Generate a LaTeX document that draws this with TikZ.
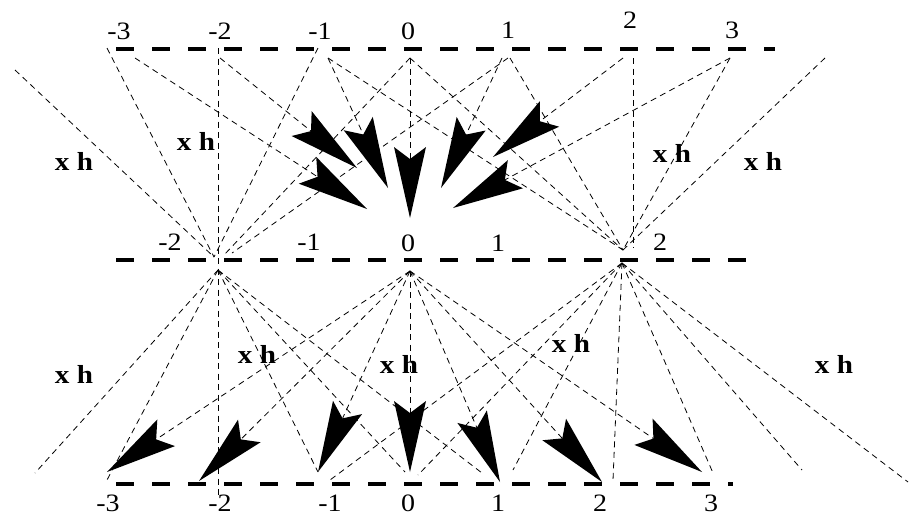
\documentclass[tikz,border=0pt]{standalone}
\usepackage{fontspec}
\setmainfont{Liberation Serif}
\newfontfamily\widenum[FakeStretch=1.12]{Liberation Serif}
\newcommand\numtext[1]{{\fontsize{25}{27}\selectfont\widenum #1}}
\newcommand\xhtext[1]{{\fontsize{26}{28}\selectfont\widenum\bfseries #1}}
\usetikzlibrary{calc}
\begin{document}
\begin{tikzpicture}[x=1pt,y=-1pt,
  thickdash/.style={line width=4.5pt, dash pattern=on 18pt off 18pt},
  thindash/.style={line width=0.8pt, dash pattern=on 6pt off 4.5pt},
  num/.style={anchor=base, inner sep=0pt},
  xh/.style={anchor=base, inner sep=0pt}]
\useasboundingbox (0,0) rectangle (910,517);
\fill[white] (0,0) rectangle (910,517);

% ---- thick level lines
\coordinate (TL) at (116,49);  \coordinate (TR) at (775,49);
\coordinate (ML) at (116,260); \coordinate (MR) at (747,260);
\coordinate (BL) at (116,484); \coordinate (BR) at (733,484);
\draw[thickdash] (TL) -- (TR);
\draw[thickdash] (ML) -- (MR);
\draw[thickdash] (BL) -- (BR);

% ---- labels
\node[num] (tm3) at (119,39) {\numtext{-3}};
\node[num] (tm2) at (220,39) {\numtext{-2}};
\node[num] (tm1) at (320,39) {\numtext{-1}};
\node[num] (t0)  at (408,39) {\numtext{0}};
\node[num] (t1)  at (508,38) {\numtext{1}};
\node[num] (t2)  at (630,28) {\numtext{2}};
\node[num] (t3)  at (732,38) {\numtext{3}};
\node[num] (mm2) at (170,250) {\numtext{-2}};
\node[num] (mm1) at (309,250) {\numtext{-1}};
\node[num] (m0)  at (408,251) {\numtext{0}};
\node[num] (m1)  at (498,251) {\numtext{1}};
\node[num] (m2)  at (660,250) {\numtext{2}};
\node[num] (bm3) at (108,511) {\numtext{-3}};
\node[num] (bm2) at (220,511) {\numtext{-2}};
\node[num] (bm1) at (330,511) {\numtext{-1}};
\node[num] (b0)  at (408,511) {\numtext{0}};
\node[num] (b1)  at (498,511) {\numtext{1}};
\node[num] (b2)  at (600,511) {\numtext{2}};
\node[num] (b3)  at (711,511) {\numtext{3}};

\node[xh] (xh1) at (74,170) {\xhtext{x h}};
\node[xh] (xh2) at (196,150) {\xhtext{x h}};
\node[xh] (xh3) at (672,162) {\xhtext{x h}};
\node[xh] (xh4) at (763,170) {\xhtext{x h}};
\node[xh] (xh5) at (74,383) {\xhtext{x h}};
\node[xh] (xh6) at (257,363) {\xhtext{x h}};
\node[xh] (xh7) at (399,373) {\xhtext{x h}};
\node[xh] (xh8) at (571,352) {\xhtext{x h}};
\node[xh] (xh9) at (834,373) {\xhtext{x h}};

% ---- top sources
\coordinate (fl)  at (15,70);
\coordinate (sm3) at (107,48);
\coordinate (sa3) at (135,58);
\coordinate (sm2) at (218,48);
\coordinate (sa1) at (220,58);
\coordinate (sm1) at (318,48);
\coordinate (sa2) at (328,58);
\coordinate (s0)  at (410,58);
\coordinate (sa5) at (502,58);
\coordinate (s1)  at (508,58);
\coordinate (s1b) at (510,58);
\coordinate (sa6) at (623,58);
\coordinate (s2v) at (633,58);
\coordinate (sp3) at (730,58);
\coordinate (fr)  at (825,58);
% ---- middle arrival points
\coordinate (am2)  at (214,257);
\coordinate (am2b) at (224,255);
\coordinate (am2c) at (232,253);
\coordinate (ap2)  at (623,250);
\coordinate (ap2v) at (633,248);
% ---- top arrow tips
\coordinate (ta3) at (367,209);
\coordinate (ta1) at (357,168);
\coordinate (ta2) at (388,188);
\coordinate (ta4) at (410,218);
\coordinate (ta5) at (441,188);
\coordinate (ta6) at (493,157);
\coordinate (ta7) at (453,208);
% ---- middle sources (lower half)
\coordinate (om2)  at (218,270);
\coordinate (om2v) at (218,497);
\coordinate (o0)   at (410,271);
\coordinate (o2)   at (622,263);
% ---- bottom ends
\coordinate (efl)   at (35,473);
\coordinate (ebm3)  at (107,480);
\coordinate (ebm1)  at (318,472);
\coordinate (eb0a)  at (405,472);
\coordinate (eb1a)  at (482,473);
\coordinate (eb1b)  at (513,470);
\coordinate (eb0b)  at (418,475);
\coordinate (ebm1b) at (330,480);
\coordinate (eb2)   at (613,480);
\coordinate (eb3)   at (713,473);
\coordinate (e4)    at (802,470);
\coordinate (e5)    at (908,482);
% ---- bottom arrow tips
\coordinate (tb1) at (107,472);
\coordinate (tb2) at (199,481);
\coordinate (tb3) at (318,472);
\coordinate (tb4) at (410,472);
\coordinate (tb5) at (500,482);
\coordinate (tb6) at (602,482);
\coordinate (tb7) at (702,472);

% ---- upper connectors
\draw[thindash] (fl) -- (am2);
\draw[thindash] (sm3) -- (am2);
\draw[thindash] (sm2) -- (om2v);
\draw[thindash] (sm1) -- (am2);
\draw[thindash] (s0) -- (am2b);
\draw[thindash] (s1) -- (am2c);
\draw[thindash] (sa2) -- (ap2);
\draw[thindash] (s0) -- (ap2);
\draw[thindash] (s1b) -- (ap2);
\draw[thindash] (s2v) -- (ap2v);
\draw[thindash] (sp3) -- (ap2);
\draw[thindash] (fr) -- (ap2);

% ---- lower connectors
\draw[thindash] (om2) -- (efl);
\draw[thindash] (om2) -- (ebm3);
\draw[thindash] (om2) -- (ebm1);
\draw[thindash] (om2) -- (eb0a);
\draw[thindash] (om2) -- (eb1a);
\draw[thindash] (o2) -- (ebm1b);
\draw[thindash] (o2) -- (eb0b);
\draw[thindash] (o2) -- (eb1b);
\draw[thindash] (o2) -- (eb2);
\draw[thindash] (o2) -- (eb3);
\draw[thindash] (o2) -- (e4);
\draw[thindash] (o2) -- (e5);

% ---- fat arrows
\foreach \s/\t in {sa3/ta3, sa1/ta1, sa2/ta2, s0/ta4, sa5/ta5, sa6/ta6, sp3/ta7,
                   o0/tb1, o0/tb2, o0/tb3, o0/tb4, o0/tb5, o0/tb6, o0/tb7} {
  \coordinate (B) at ($(\t)!71pt!(\s)$);
  \coordinate (N) at ($(\t)!59pt!(\s)$);
  \fill[black] (\t) -- ($(B)!16pt!90:(\t)$) -- (N) -- ($(B)!16pt!-90:(\t)$) -- cycle;
  \draw[thindash] (\s) -- (N);
}
\end{tikzpicture}
\end{document}
